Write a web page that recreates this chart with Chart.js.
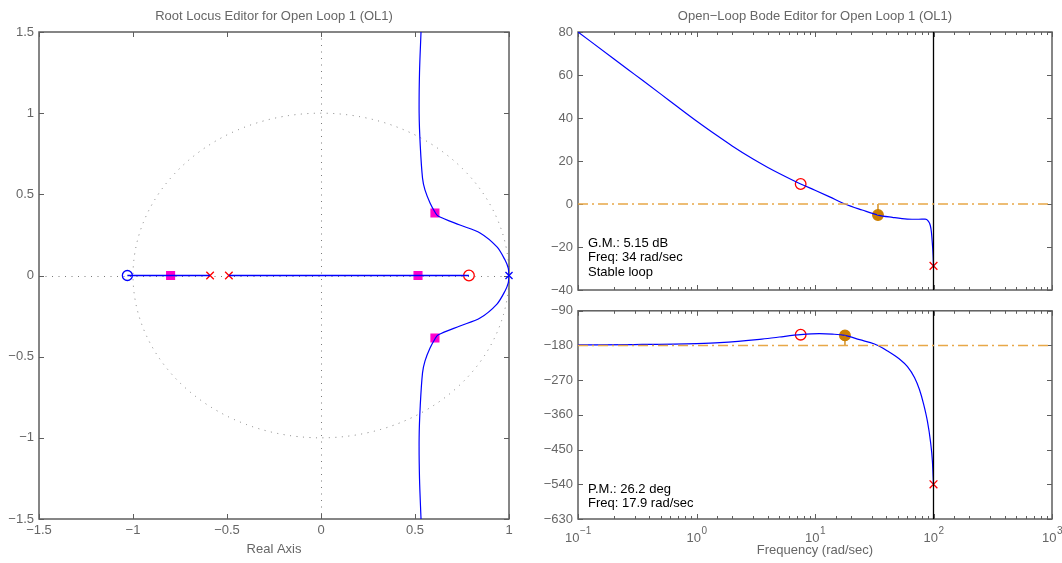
<!DOCTYPE html>
<html>
<head>
<meta charset="utf-8">
<script src="https://cdn.jsdelivr.net/npm/chart.js@4/dist/chart.umd.min.js"></script>
<style>
  html, body { margin: 0; padding: 0; background: #ffffff; }
  #wrap { position: relative; width: 1062px; height: 563px; overflow: hidden; background: #fff; }
  canvas { position: absolute; }
</style>
</head>
<body>
<div id="wrap">
  <canvas id="rl"  style="left:0;top:0;width:530px;height:563px" width="530" height="563"></canvas>
  <canvas id="ph"  style="left:530px;top:298px;width:532px;height:265px" width="532" height="265"></canvas>
  <canvas id="mag" style="left:530px;top:0;width:532px;height:310px" width="532" height="310"></canvas>
</div>
<script>
// ---------- Root locus (z-plane) ----------
const rlTicks = [-1.5, -1, -0.5, 0, 0.5, 1, 1.5];
const plantPoles = [1.0];            // blue x on the real axis
const plantZeros = [-1.03];          // blue o
const compPoles = [-0.59, -0.49];    // red x
const compZeros = [0.787];           // red o
const clPolesRe = [-0.80, 0.516, 0.606, 0.606];
const clPolesIm = [0, 0, 0.385, -0.385];
const realSegA = [-1.03, -0.59];
const realSegB = [-0.49, 0.787];
// upper complex branch leaving the pole at z = 1 (lower branch is its conjugate)
const branchRe = [1.0, 0.996, 0.979, 0.936, 0.846, 0.739, 0.622, 0.606, 0.580, 0.553, 0.540, 0.528, 0.522, 0.524, 0.532];
const branchIm = [0, 0.045, 0.095, 0.176, 0.262, 0.311, 0.367, 0.391, 0.447, 0.527, 0.600, 0.800, 1.000, 1.250, 1.500];

// ---------- Open-loop Bode ----------
const magFreq = [0.1, 0.2, 0.3, 0.5, 0.7, 1, 1.5, 2, 3, 4, 5, 7.57, 10, 13.3, 17.9, 25, 34, 45, 60, 75, 85, 90, 94, 96, 98, 99.3, 100];
const magDb   = [80, 67.6, 60.3, 51.1, 45.0, 38.6, 31.7, 27.0, 20.9, 17.0, 14.2, 9.3, 6.4, 3.3, 0, -2.8, -5.15, -6.2, -7.0, -7.1, -7.0, -7.8, -10, -13, -19, -24, -28.8];
const phFreq  = [0.1, 0.3, 1, 1.57, 3.41, 5, 7.57, 10.9, 14, 17.9, 23.8, 31.8, 34, 40.9, 51.6, 60.3, 69.1, 76.1, 82.2, 88.9, 94.2, 97.9, 100];
const phDeg   = [-178.5, -177.5, -175, -172.7, -164, -158, -152, -149.4, -150.5, -153.8, -164.9, -176, -180, -194, -215, -234.7, -263, -294, -330, -377, -428, -480, -540];
const magTicks = [-40, -20, 0, 20, 40, 60, 80];
const phTicks = [-630, -540, -450, -360, -270, -180, -90];
const nyquistFreq = 100;
const gmDb = 5.15, gmFreq = 34;
const pmDeg = 26.2, pmFreq = 17.9;
const compZeroFreq = 7.57, compZeroMag = 9.3, compZeroPh = -152;
const nyqMag = -28.8, nyqPh = -540;
const magNotes = ['G.M.: ' + gmDb + ' dB', 'Freq: ' + gmFreq + ' rad/sec', 'Stable loop'];
const phNotes = ['P.M.: ' + pmDeg + ' deg', 'Freq: ' + pmFreq + ' rad/sec'];

const FONT = '"Liberation Sans", Arial, Helvetica, sans-serif';
const GRAY = '#666666';
const BLUE = '#0000ff';
const RED = '#ff0000';
const MAGENTA = '#ff00cc';
const GOLD = '#cc7f00';
const ORANGE = '#e8a848';

function fmtMinus(v) { return v < 0 ? '\u2212' + String(Math.abs(v)) : String(v); }
function isDecade(v) { const e = Math.log10(v); return Math.abs(e - Math.round(e)) < 1e-6; }
function pts(xs, ys) { return xs.map((x, i) => ({ x: x, y: ys[i] })); }

// Axes frame with inward tick marks on all four sides, plus optional z-plane guides
const framePlugin = {
  id: 'frame',
  beforeDatasetsDraw(chart, args, o) {
    const { ctx, chartArea: a } = chart;
    const xs = chart.scales.x, ys = chart.scales.y;
    ctx.save();
    if (o.zplane) {
      const x0 = xs.getPixelForValue(0), y0 = ys.getPixelForValue(0);
      const rx = xs.getPixelForValue(1) - x0, ry = y0 - ys.getPixelForValue(1);
      ctx.strokeStyle = '#7a7a7a';
      ctx.lineWidth = 1;
      ctx.setLineDash([1, 5.5]);
      ctx.beginPath(); ctx.moveTo(a.left, Math.round(y0) + 0.5); ctx.lineTo(a.right, Math.round(y0) + 0.5); ctx.stroke();
      ctx.beginPath(); ctx.moveTo(Math.round(x0) + 0.5, a.top); ctx.lineTo(Math.round(x0) + 0.5, a.bottom); ctx.stroke();
      ctx.beginPath(); ctx.ellipse(x0, y0, rx, ry, 0, 0, Math.PI * 2); ctx.stroke();
      ctx.setLineDash([]);
    }
    ctx.strokeStyle = '#5e5e5e';
    ctx.lineWidth = 1;
    const line = (x1, y1, x2, y2) => { ctx.beginPath(); ctx.moveTo(x1, y1); ctx.lineTo(x2, y2); ctx.stroke(); };
    xs.ticks.forEach(t => {
      const px = Math.round(xs.getPixelForValue(t.value)) + 0.5;
      const len = (o.logX && !isDecade(t.value)) ? 3 : 5;
      line(px, a.bottom, px, a.bottom - len);
      line(px, a.top, px, a.top + len);
    });
    ys.ticks.forEach(t => {
      const py = Math.round(ys.getPixelForValue(t.value)) + 0.5;
      line(a.left, py, a.left + 5, py);
      line(a.right, py, a.right - 5, py);
    });
    ctx.lineWidth = 1.5;
    ctx.strokeRect(a.left, a.top, a.right - a.left, a.bottom - a.top);
    ctx.restore();
  },
  afterDraw(chart, args, o) {
    const { ctx, chartArea: a } = chart;
    ctx.save();
    if (o.notes) {
      ctx.fillStyle = '#000';
      ctx.font = '13px ' + FONT;
      ctx.textBaseline = 'middle';
      ctx.textAlign = 'left';
      o.notes.forEach((s, i) => ctx.fillText(s, a.left + 10, a.bottom - o.notesFrom + i * 14.7));
    }
    if (o.logLabels) {
      const xs = chart.scales.x;
      ctx.fillStyle = GRAY;
      ctx.textBaseline = 'middle';
      ctx.textAlign = 'left';
      xs.ticks.forEach(t => {
        if (!isDecade(t.value)) return;
        const e = Math.round(Math.log10(t.value));
        const sup = e < 0 ? '\u2212' + (-e) : String(e);
        ctx.font = '13px ' + FONT;
        const wb = ctx.measureText('10').width;
        ctx.font = '10px ' + FONT;
        const we = ctx.measureText(sup).width;
        const px = xs.getPixelForValue(t.value);
        const x0 = px - (wb + we) / 2;
        ctx.font = '13px ' + FONT;
        ctx.fillText('10', x0, a.bottom + 19);
        ctx.font = '10px ' + FONT;
        ctx.fillText(sup, x0 + wb + 0.5, a.bottom + 12);
      });
    }
    ctx.restore();
  }
};

const tickFont = { family: FONT, size: 13 };
const titleFont = { family: FONT, size: 13, weight: 'normal' };

function lineSet(data, color, width, extra) {
  return Object.assign({ data: data, showLine: true, borderColor: color, borderWidth: width,
    pointRadius: 0, pointHoverRadius: 0, fill: false }, extra || {});
}
function markSet(data, style, color, radius, filled, extra) {
  return Object.assign({ data: data, showLine: false, pointStyle: style, pointRadius: radius,
    pointHoverRadius: radius, borderColor: color, pointBorderColor: color,
    backgroundColor: filled ? color : 'rgba(0,0,0,0)', pointBackgroundColor: filled ? color : 'rgba(0,0,0,0)',
    pointBorderWidth: 1.3, clip: false }, extra || {});
}

const common = {
  responsive: false,
  animation: false,
  events: [],
  plugins: { legend: { display: false }, tooltip: { enabled: false } }
};

// ---------- Root locus chart ----------
const upper = pts(branchRe, branchIm);
const lower = pts(branchRe, branchIm.map(v => -v));
new Chart(document.getElementById('rl'), {
  type: 'scatter',
  data: { datasets: [
    lineSet(pts(realSegA, [0, 0]), BLUE, 1.5),
    lineSet(pts(realSegB, [0, 0]), BLUE, 1.5),
    lineSet(upper, BLUE, 1.2, { tension: 0.3 }),
    lineSet(lower, BLUE, 1.2, { tension: 0.3 }),
    markSet(pts(clPolesRe, clPolesIm), 'rect', MAGENTA, 5.5, true),
    markSet(pts(plantZeros, [0]), 'circle', BLUE, 5, false),
    markSet(pts(plantPoles, [0]), 'crossRot', BLUE, 5, false),
    markSet(pts(compZeros, [0]), 'circle', RED, 5.3, false),
    markSet(pts(compPoles, [0, 0]), 'crossRot', RED, 5.3, false)
  ]},
  options: Object.assign({}, common, {
    layout: { padding: { left: 0, right: 21, top: 0, bottom: 0 } },
    plugins: {
      legend: { display: false }, tooltip: { enabled: false },
      title: { display: true, fullSize: false, text: 'Root Locus Editor for Open Loop 1 (OL1)', color: GRAY,
               font: titleFont, padding: { top: 8.5, bottom: 7.9 } },
      frame: { zplane: true }
    },
    scales: {
      x: { type: 'linear', min: -1.5, max: 1,
           afterFit(s) { s.height = 44; },
           afterBuildTicks(s) { s.ticks = rlTicks.filter(v => v <= 1).map(v => ({ value: v })); },
           grid: { display: false, drawTicks: false }, border: { display: false },
           ticks: { color: GRAY, font: tickFont, padding: 4, autoSkip: false, maxRotation: 0, callback: v => fmtMinus(v) },
           title: { display: true, text: 'Real Axis', color: GRAY, font: tickFont, padding: { top: 0, bottom: 6.2 } } },
      y: { type: 'linear', min: -1.5, max: 1.5,
           afterFit(s) { s.width = 39; },
           afterBuildTicks(s) { s.ticks = rlTicks.map(v => ({ value: v })); },
           grid: { display: false, drawTicks: false }, border: { display: false },
           ticks: { color: GRAY, font: tickFont, padding: 5, autoSkip: false, callback: v => fmtMinus(v) } }
    }
  }),
  plugins: [framePlugin]
});

// ---------- Bode magnitude chart ----------
new Chart(document.getElementById('mag'), {
  type: 'scatter',
  data: { datasets: [
    lineSet(pts([0.1, 1000], [0, 0]), ORANGE, 1.3, { borderDash: [10, 4, 2, 4] }),
    lineSet(pts([nyquistFreq, nyquistFreq], [80, -40]), '#000000', 1.3),
    lineSet(pts([gmFreq, gmFreq], [-gmDb, 0]), GOLD, 1.3),
    lineSet(pts(magFreq, magDb), BLUE, 1.2, { cubicInterpolationMode: 'monotone' }),
    markSet(pts([compZeroFreq], [compZeroMag]), 'circle', RED, 5.3, false),
    markSet(pts([gmFreq], [-gmDb]), 'circle', GOLD, 5.3, true),
    markSet(pts([nyquistFreq], [nyqMag]), 'crossRot', RED, 5.5, false)
  ]},
  options: Object.assign({}, common, {
    layout: { padding: { left: 0, right: 10, top: 0, bottom: 0 } },
    plugins: {
      legend: { display: false }, tooltip: { enabled: false },
      title: { display: true, fullSize: false, text: 'Open\u2212Loop Bode Editor for Open Loop 1 (OL1)', color: GRAY,
               font: titleFont, padding: { top: 8.5, bottom: 7.9 } },
      frame: { logX: true, notes: magNotes, notesFrom: 47 }
    },
    scales: {
      x: { type: 'logarithmic', min: 0.1, max: 1000,
           afterFit(s) { s.height = 20; },
           grid: { display: false, drawTicks: false }, border: { display: false },
           ticks: { display: false, autoSkip: false } },
      y: { type: 'linear', min: -40, max: 80,
           afterFit(s) { s.width = 48; },
           afterBuildTicks(s) { s.ticks = magTicks.map(v => ({ value: v })); },
           grid: { display: false, drawTicks: false }, border: { display: false },
           ticks: { color: GRAY, font: tickFont, padding: 5, autoSkip: false, callback: v => fmtMinus(v) } }
    }
  }),
  plugins: [framePlugin]
});

// ---------- Bode phase chart ----------
new Chart(document.getElementById('ph'), {
  type: 'scatter',
  data: { datasets: [
    lineSet(pts([0.1, 1000], [-180, -180]), ORANGE, 1.3, { borderDash: [10, 4, 2, 4] }),
    lineSet(pts([nyquistFreq, nyquistFreq], [-90, -630]), '#000000', 1.3),
    lineSet(pts([pmFreq, pmFreq], [-180 + pmDeg, -180]), GOLD, 1.3),
    lineSet(pts(phFreq, phDeg), BLUE, 1.2, { cubicInterpolationMode: 'monotone' }),
    markSet(pts([compZeroFreq], [compZeroPh]), 'circle', RED, 5.3, false),
    markSet(pts([pmFreq], [-180 + pmDeg]), 'circle', GOLD, 5.3, true),
    markSet(pts([nyquistFreq], [nyqPh]), 'crossRot', RED, 5.5, false)
  ]},
  options: Object.assign({}, common, {
    layout: { padding: { left: 0, right: 10, top: 11, bottom: 0 } },
    plugins: {
      legend: { display: false }, tooltip: { enabled: false },
      frame: { logX: true, logLabels: true, notes: phNotes, notesFrom: 30 }
    },
    scales: {
      x: { type: 'logarithmic', min: 0.1, max: 1000,
           afterFit(s) { s.height = 44; },
           grid: { display: false, drawTicks: false }, border: { display: false },
           ticks: { display: false, autoSkip: false },
           title: { display: true, text: 'Frequency (rad/sec)', color: GRAY, font: tickFont, padding: { top: 0, bottom: 4.5 } } },
      y: { type: 'linear', min: -630, max: -90,
           afterFit(s) { s.width = 48; },
           afterBuildTicks(s) { s.ticks = phTicks.map(v => ({ value: v })); },
           grid: { display: false, drawTicks: false }, border: { display: false },
           ticks: { color: GRAY, font: tickFont, padding: 5, autoSkip: false, callback: v => fmtMinus(v) } }
    }
  }),
  plugins: [framePlugin]
});
</script>
</body>
</html>
